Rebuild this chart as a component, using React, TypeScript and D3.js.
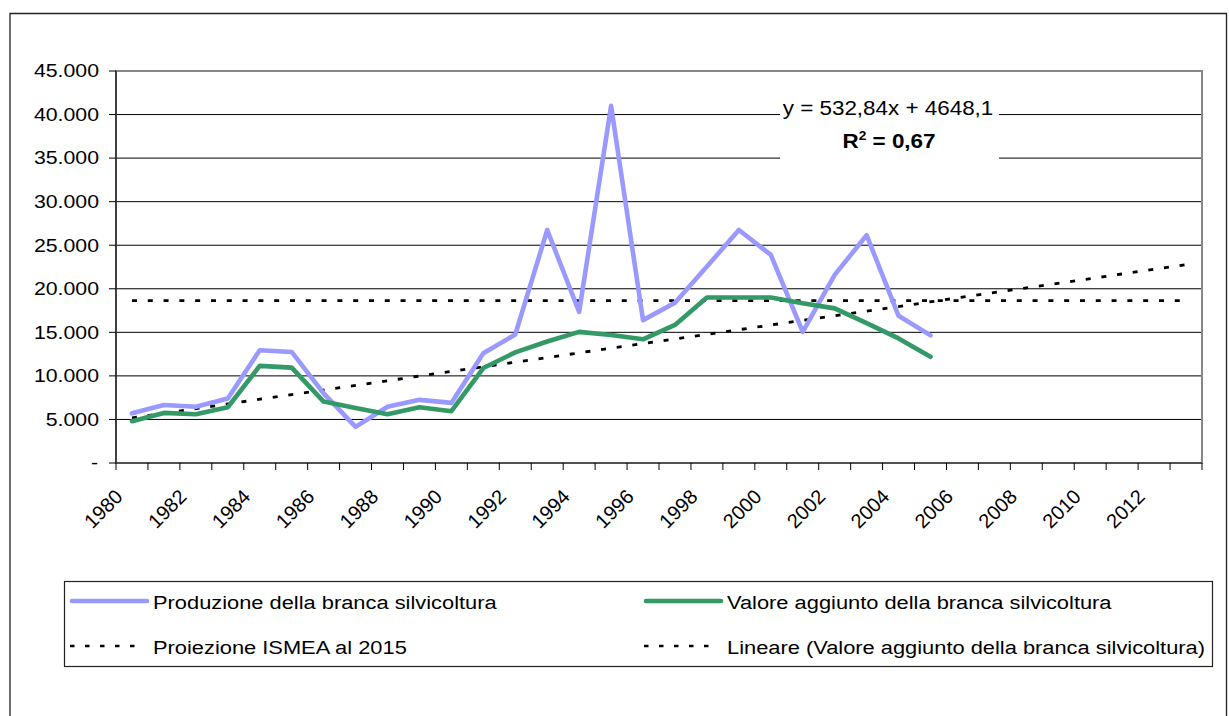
import React from "react";
import * as d3 from "d3";

// categories (years on the x axis)
const years = [
  "1980", "1981", "1982", "1983", "1984", "1985", "1986", "1987", "1988", "1989",
  "1990", "1991", "1992", "1993", "1994", "1995", "1996", "1997", "1998", "1999",
  "2000", "2001", "2002", "2003", "2004", "2005", "2006", "2007", "2008", "2009",
  "2010", "2011", "2012", "2013",
];
const xTickLabels = [
  "1980", "1982", "1984", "1986", "1988", "1990", "1992", "1994", "1996",
  "1998", "2000", "2002", "2004", "2006", "2008", "2010", "2012",
];
const yTicks = [0, 5000, 10000, 15000, 20000, 25000, 30000, 35000, 40000, 45000];

// series, 1980..2005
const produzione = [
  5700, 6650, 6450, 7400, 12950, 12750, 8000, 4150, 6450, 7250,
  6900, 12600, 14750, 26750, 17350, 41000, 16400, 18400, 22550, 26750,
  23900, 15050, 21600, 26150, 16900, 14650,
];
const valoreAggiunto = [
  4800, 5750, 5600, 6400, 11150, 10950, 7050, 6300, 5600, 6400,
  5950, 10900, 12700, 13950, 15050, 14700, 14200, 15850, 19000, 19000,
  19000, 18350, 17750, 16050, 14300, 12200,
];
const proiezioneIsmea = 18650;
const trendSlope = 532.84;
const trendIntercept = 4648.1;

const legendItems = [
  { label: "Produzione della branca silvicoltura", color: "#9999FF", dashed: false },
  { label: "Valore aggiunto della branca silvicoltura", color: "#339966", dashed: false },
  { label: "Proiezione ISMEA al 2015", color: "#000", dashed: true },
  { label: "Lineare (Valore aggiunto della branca silvicoltura)", color: "#000", dashed: true },
];

const FONT = "'Liberation Sans', Arial, sans-serif";
const HS = 1.15; // the reference text is a bit wide

const itLocale = d3.formatLocale({
  decimal: ",",
  thousands: ".",
  grouping: [3],
  currency: ["", ""],
});
const fmt = itLocale.format(",.0f");

export default function App() {
  const left = 116, right = 1202, top = 71, bottom = 463;
  const x = d3.scaleBand<string>().domain(years).range([left, right]);
  const cx = (yr: string) => (x(yr) as number) + x.bandwidth() / 2;
  const y = d3.scaleLinear().domain([0, 45000]).range([bottom, top]);

  const line = d3
    .line<[string, number]>()
    .x((d) => cx(d[0]))
    .y((d) => y(d[1]));

  const prodPts = produzione.map((v, i) => [years[i], v] as [string, number]);
  const valPts = valoreAggiunto.map((v, i) => [years[i], v] as [string, number]);
  const first = years[0];
  const last = years[years.length - 1];
  const projPts: [string, number][] = [
    [first, proiezioneIsmea],
    [last, proiezioneIsmea],
  ];
  const trendPts: [string, number][] = [
    [first, trendSlope * 1 + trendIntercept],
    [last, trendSlope * years.length + trendIntercept],
  ];

  const bounds = years.map((yr) => x(yr) as number).concat([right]);

  const legendCols = [70, 644];
  const legendRows = [601, 646];

  return (
    <svg
      width={1229}
      height={716}
      style={{ position: "absolute", left: 0, top: 0, background: "#fff" }}
      fontFamily={FONT}
    >
      {/* outer frame */}
      <path d="M10,730 V13.5 H1226.5 V730" fill="none" stroke="#222" strokeWidth={1.3} />

      {/* gridlines */}
      {yTicks.slice(1, -1).map((t) => (
        <line key={t} x1={left} x2={right} y1={y(t)} y2={y(t)} stroke="#000" strokeWidth={1} />
      ))}

      {/* trendline label box */}
      <rect x={780} y={88} width={219} height={76} fill="#fff" />

      {/* plot area border */}
      <rect x={left} y={top} width={right - left} height={bottom - top} fill="none" stroke="#888" strokeWidth={2} />

      {/* series */}
      <path d={line(projPts) as string} fill="none" stroke="#000" strokeWidth={2.8} strokeDasharray="5 10.8" />
      <path d={line(trendPts) as string} fill="none" stroke="#000" strokeWidth={2.8} strokeDasharray="5 10.8" />
      <path d={line(prodPts) as string} fill="none" stroke="#9999FF" strokeWidth={4.6} strokeLinejoin="round" strokeLinecap="round" />
      <path d={line(valPts) as string} fill="none" stroke="#339966" strokeWidth={4.6} strokeLinejoin="round" strokeLinecap="round" />

      {/* axes */}
      <line x1={left} x2={left} y1={top} y2={bottom} stroke="#404040" strokeWidth={2} />
      <line x1={left} x2={right} y1={bottom} y2={bottom} stroke="#404040" strokeWidth={1.6} />
      {yTicks.map((t) => (
        <g key={t}>
          <line x1={109} x2={left} y1={y(t)} y2={y(t)} stroke="#000" strokeWidth={1} />
          <text
            transform={`translate(${t === 0 ? 98 : 99},${y(t) + 6.3}) scale(${HS},1)`}
            textAnchor="end"
            fontSize={18.5}
            fill="#000"
          >
            {t === 0 ? "-" : fmt(t)}
          </text>
        </g>
      ))}
      {bounds.map((b, i) => (
        <line key={i} x1={b} x2={b} y1={bottom} y2={bottom + 7} stroke="#000" strokeWidth={1} />
      ))}
      {xTickLabels.map((lab) => (
        <text
          key={lab}
          transform={`translate(${cx(lab) - 8},498) rotate(-45)`}
          textAnchor="end"
          fontSize={20}
          fill="#000"
        >
          {lab}
        </text>
      ))}

      {/* trendline equation */}
      <text transform={`translate(888,115) scale(${HS},1)`} textAnchor="middle" fontSize={19.5} fill="#000">
        y = 532,84x + 4648,1
      </text>
      <text transform={`translate(889,148.3) scale(${HS},1)`} textAnchor="middle" fontSize={19.5} fontWeight="bold" fill="#000">
        R<tspan fontSize={12} dy={-8}>2</tspan>
        <tspan dy={8}> = 0,67</tspan>
      </text>

      {/* legend */}
      <rect x={64.5} y={581.5} width={1148} height={85} fill="#fff" stroke="#222" strokeWidth={1.2} />
      {legendItems.map((it, i) => {
        const lx = legendCols[i % 2];
        const ly = legendRows[Math.floor(i / 2)];
        return (
          <g key={it.label}>
            {it.dashed ? (
              <line x1={lx} x2={lx + 67} y1={ly} y2={ly} stroke="#000" strokeWidth={2.6} strokeDasharray="4.5 10.5" />
            ) : (
              <line x1={lx + 2} x2={lx + 77} y1={ly} y2={ly} stroke={it.color} strokeWidth={4.6} strokeLinecap="round" />
            )}
            <text transform={`translate(${lx + 83},${ly + 7.5}) scale(${HS},1)`} fontSize={19} fill="#000">
              {it.label}
            </text>
          </g>
        );
      })}
    </svg>
  );
}
